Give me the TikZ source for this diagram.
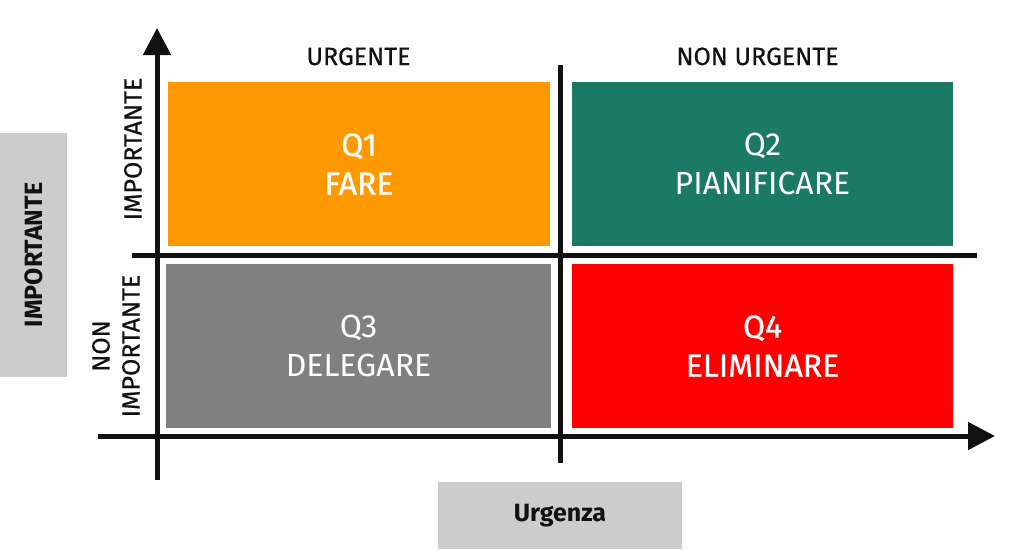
\documentclass[tikz,border=0pt]{standalone}
\usepackage{fontspec}
\setmainfont{Fira Sans}
\newfontfamily\mediumfont[FakeBold=0.8]{Fira Sans}
\newfontfamily\labelfont[FakeBold=0.4]{Fira Sans}
\usepackage{tikz}
\usetikzlibrary{arrows.meta, positioning}
\usepackage{xcolor}
\definecolor{qorange}{RGB}{255,153,0}
\definecolor{qteal}{RGB}{26,122,102}
\definecolor{qgray}{RGB}{128,128,128}
\definecolor{qred}{RGB}{255,0,0}
\definecolor{labelgray}{RGB}{204,204,204}
\definecolor{axisblack}{RGB}{17,17,17}

\begin{document}
\begin{tikzpicture}[x=1pt,y=1pt,
  axis/.style={line width=5pt, draw=axisblack},
  axisarrow/.style={axis, -{Triangle[width=27pt,length=27pt]}},
  quad/.style={minimum height=164pt, inner sep=0pt, text=white, align=center},
  quadtext/.style={font=\fontsize{32}{39}\selectfont},
  quadbold/.style={font=\mediumfont\fontsize{32}{39}\selectfont},
  axislabel/.style={font=\labelfont\fontsize{25}{30}\selectfont, text=axisblack, align=center},
  graybox/.style={fill=labelgray, inner sep=0pt, font=\bfseries\fontsize{25}{30}\selectfont, text=axisblack}]

\useasboundingbox (0,0) rectangle (1024,-549);

% quadranti
\node [quad, fill=qorange, minimum width=382pt, quadbold] (q1) at (359,-164) {Q1\\FARE};
\node [quad, fill=qteal, minimum width=381pt, quadtext] (q2) at (762.5,-164) {Q2\\PIANIFICARE};
\node [quad, fill=qgray, minimum width=385pt, quadtext] (q3) at (358.5,-346) {Q3\\DELEGARE};
\node [quad, fill=qred, minimum width=381pt, quadbold] (q4) at (762.5,-346) {Q4\\ELIMINARE};

% assi
\coordinate (ybottom) at (157,-480);
\coordinate (ytop) at (157,-28);
\coordinate (xleft) at (98,-436);
\coordinate (xright) at (995,-436);
\coordinate (mtop) at (560,-65);
\coordinate (mbottom) at (560,-463);
\coordinate (mleft) at (132,-255);
\coordinate (mright) at (977,-255);
\draw [axisarrow] (ybottom) -- (ytop);
\draw [axisarrow] (xleft) -- (xright);
\draw [axis] (mtop) -- (mbottom);
\draw [axis] (mleft) -- (mright);

% etichette
\node [axislabel, anchor=base] (urg) at (358.5,-65) {URGENTE};
\node [axislabel, anchor=base] (nonurg) at (757.5,-65) {NON URGENTE};
\node [axislabel, rotate=90] (imp) at (133,-149) {IMPORTANTE};
\node [axislabel, rotate=90] (nonimp) at (116,-346) {NON\\IMPORTANTE};
\node [graybox, minimum width=67pt, minimum height=244pt] (importante) at (33.5,-255) {\rotatebox{90}{IMPORTANTE}};
\node [graybox, minimum width=244pt, minimum height=67pt] (urgenza) at (560,-515.5) {Urgenza};

\end{tikzpicture}
\end{document}
